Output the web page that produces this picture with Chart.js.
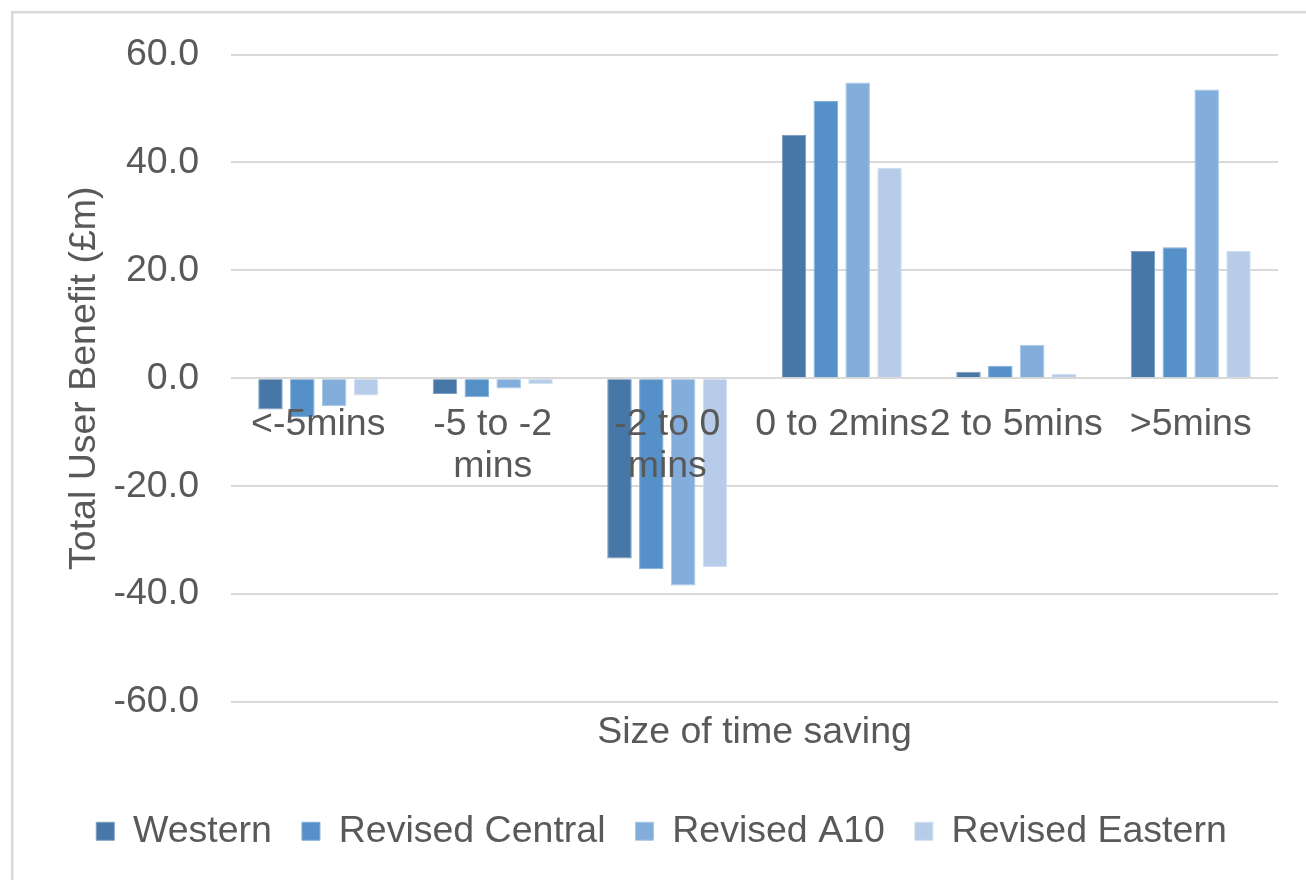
<!DOCTYPE html>
<html>
<head>
<meta charset="utf-8">
<script src="https://cdn.jsdelivr.net/npm/chart.js@4.4.1/dist/chart.umd.min.js"></script>
<style>
  html, body { margin: 0; padding: 0; background: #ffffff; }
  #wrap { position: relative; width: 1306px; height: 880px; }
</style>
</head>
<body>
<div id="wrap"><canvas id="chart" width="1306" height="880"></canvas></div>
<script>
// Time-saving bands on the category axis
const categories = ['<-5mins', ['-5 to -2', 'mins'], ['-2 to 0', 'mins'], '0 to 2mins', '2 to 5mins', '>5mins'];

// Total user benefit (£m) per option
const western        = [-5.8, -2.9, -33.4, 45.1, 1.2, 23.6];
const revisedCentral = [-7.2, -3.5, -35.4, 51.4, 2.3, 24.3];
const revisedA10     = [-5.2, -1.9, -38.4, 54.8, 6.2, 53.5];
const revisedEastern = [-3.2, -1.1, -35.0, 39.0, 0.8, 23.6];

const seriesNames = ['Western', 'Revised Central', 'Revised A10', 'Revised Eastern'];
const seriesColors = ['#4677a7', '#5591c8', '#83aedb', '#b6cce8'];
const seriesEdges  = ['#7d9ec0', '#83afd8', '#a8c6e6', '#d0deef'];

const yTicks = { min: -60, max: 60, step: 20 };

const FONT = '"Liberation Sans", Arial, sans-serif';
const SIZE = 37.5;
const TEXT = '#595959';
const GRID = '#d9d9d9';

// Thin frame along the top and left edges of the figure
const framePlugin = {
  id: 'frame',
  beforeDraw(chart) {
    const ctx = chart.ctx;
    ctx.save();
    ctx.fillStyle = '#ffffff';
    ctx.fillRect(0, 0, chart.width, chart.height);
    ctx.fillStyle = GRID;
    ctx.fillRect(11, 11, chart.width - 11, 2.5);
    ctx.fillRect(11, 11, 2.5, chart.height - 11);
    ctx.restore();
  }
};

const values = [western, revisedCentral, revisedA10, revisedEastern];

new Chart(document.getElementById('chart'), {
  type: 'bar',
  data: {
    labels: categories,
    datasets: values.map((v, i) => ({
      label: seriesNames[i],
      data: v,
      backgroundColor: seriesColors[i],
      borderColor: seriesEdges[i],
      borderWidth: 1,
      categoryPercentage: 0.73,
      barPercentage: 0.77
    }))
  },
  options: {
    responsive: false,
    animation: false,
    devicePixelRatio: 1,
    layout: { padding: { left: 45, right: 28, top: 54, bottom: 20 } },
    plugins: {
      legend: {
        position: 'bottom',
        labels: {
          boxWidth: 18,
          boxHeight: 18,
          padding: 30,
          color: TEXT,
          font: { family: FONT, size: SIZE }
        }
      },
      tooltip: { enabled: false }
    },
    scales: {
      x: {
        type: 'category',
        position: { y: 0 },
        grid: { display: false, drawTicks: false },
        border: { display: false },
        ticks: {
          z: 1,
          color: TEXT,
          font: { family: FONT, size: SIZE, lineHeight: 1.12 },
          padding: 25,
          maxRotation: 0,
          minRotation: 0,
          autoSkip: false
        }
      },
      x2: {
        type: 'category',
        position: 'bottom',
        grid: { display: false, drawTicks: false },
        border: { display: false },
        ticks: { display: false },
        title: {
          display: true,
          text: 'Size of time saving',
          color: TEXT,
          font: { family: FONT, size: SIZE },
          padding: { top: 8.5, bottom: 27 }
        }
      },
      y: {
        position: 'left',
        min: yTicks.min,
        max: yTicks.max,
        afterFit(scale) { scale.width = 186; },
        grid: { color: GRID, lineWidth: 2, drawTicks: false },
        border: { display: false },
        ticks: {
          stepSize: yTicks.step,
          color: TEXT,
          font: { family: FONT, size: SIZE },
          padding: 32,
          callback: (v) => Number(v).toFixed(1)
        },
        title: {
          display: true,
          text: 'Total User Benefit (£m)',
          color: TEXT,
          font: { family: FONT, size: SIZE },
          padding: { top: 17.5, bottom: 0 }
        }
      }
    }
  },
  plugins: [framePlugin]
});
</script>
</body>
</html>
